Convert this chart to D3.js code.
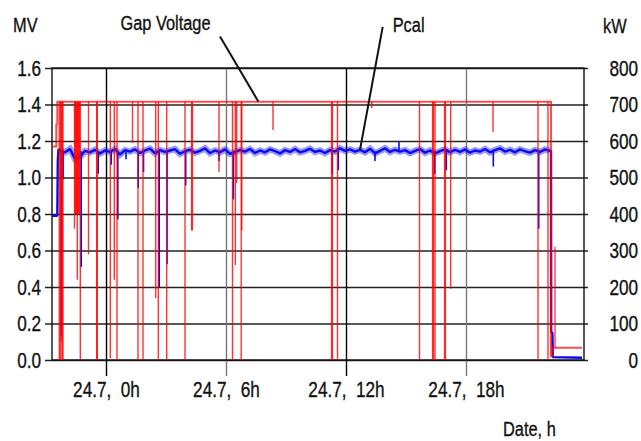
<!DOCTYPE html>
<html><head><meta charset="utf-8">
<script src="https://cdn.jsdelivr.net/npm/d3@7"></script>
<style>
html,body{margin:0;padding:0;background:#fff;}
svg{display:block;}
text{font-family:"Liberation Sans",Arial,sans-serif;fill:#111;stroke:#111;stroke-width:0.35px;}
</style></head><body>
<svg id="chart" width="641" height="441"></svg>
<script>
// ---------- DATA ----------
const xTickHours = [0, 6, 12, 18];
const xTickLabels = ["24.7,  0h", "24.7,  6h", "24.7,  12h", "24.7,  18h"];
const mvTicks = [0, 0.2, 0.4, 0.6, 0.8, 1.0, 1.2, 1.4, 1.6];
const kwTicks = [0, 100, 200, 300, 400, 500, 600, 700, 800];

// Gap voltage (MV): step levels
const gvStepHours  = [-2.7, -2.485, -2.435, 22.25, 22.33];
const gvStepValues = [1.17, 1.29, 1.415, 0.02, 0.067];
const gvEndHour = 23.8;
const gvLevel = 1.415;
// Gap voltage trips (hour, minimum MV reached)
const gvTripHours = [-2.335, -2.265, -2.23, -2.19, -2.15, -1.575, -1.54, -1.505, -1.47, -1.435, -1.40, -1.365, -1.33, -1.285,
  -0.875, -0.465, -0.435, 0.215, 0.415, 0.55, 1.325, 1.6, 1.85, 2.485, 2.615, 3.035, 3.95, 4.28, 4.32, 5.65,
  6.325, 6.465, 6.535, 6.76, 6.79, 8.35, 11.28, 11.32, 11.575, 13.285, 15.675, 16.33, 16.37, 16.45, 16.93, 16.97,
  17.235, 19.35, 21.6, 22.1];
const gvTripMin = [0, 0, 0.1, 0, 0, 0.72, 0.8, 0.8, 0.8, 0.44, 0.8, 0.8, 0.8, 0,
  0.58, 0, 0, 0.01, 0.44, 0, 1.19, 0, 0, 0.34, 0, 0, 0, 0.71, 0.71, 1.03,
  0, 0.52, 0.97, 0, 0.71, 1.26, 0, 0, 0, 1.38, 0, 0, 0, 0, 0, 0,
  0.39, 1.25, 0, 0];
// short pulse after shutdown
const gvPulseHours = [22.45];
const gvPulseMax = [0.62];

// Pcal (kW)
const pcalStartHours = [-2.7, -2.435, -2.41, -2.375];
const pcalStartKW = [395, 395, 545, 578];
const pcalSampleStart = -2.3, pcalSampleStep = 0.25;
const pcalKW = [575,569,578,551,556,573,569,576,566,574,570,578,563,575,571,577,567,574,579,566,
  575,570,574,578,565,572,576,568,573,580,567,574,569,577,565,570,575,571,578,567,
  574,569,577,572,566,575,570,578,569,573,579,570,574,567,575,571,580,573,577,571,
  576,569,579,566,573,580,570,576,571,575,567,573,578,568,574,566,572,577,569,576,
  570,577,568,574,571,578,569,575,580,571,576,569,577,572,568,575,570,577,573];
const pcalEndHours = [22.25, 22.26, 22.32, 22.34, 23.8];
const pcalEndKW = [573, 75, 75, 8, 6];
const pcalLevel = 572;
const pcalDipHours = [-2.235, -2.14, -1.24, -0.39, 0.26, 0.59, 1.0, 1.61, 1.875, 2.66, 3.05, 3.985, 5.65, 6.365,
  11.315, 11.615, 13.45, 14.65, 16.435, 17.015, 19.365, 21.635];
const pcalDipKW = [65, 495, 255, 510, 535, 385, 550, 472, 515, 200, 262, 478, 545, 440,
  510, 520, 545, 600, 510, 520, 530, 360];

// ---------- CHART ----------
const svg = d3.select("#chart");
const x = d3.scaleLinear().domain([-2.7, 23.9]).range([52, 584]);
const yL = d3.scaleLinear().domain([0, 1.6]).range([360, 68]);
const yR = d3.scaleLinear().domain([0, 800]).range([360, 68]);
const FS = 22;

// horizontal grid + left labels
const gL = svg.append("g").attr("transform", "translate(588,0)")
  .call(d3.axisLeft(yL).tickValues(mvTicks).tickSize(543).tickPadding(4).tickFormat(d3.format(".1f")));
gL.select(".domain").remove();
gL.selectAll(".tick line").attr("stroke", "#222").attr("stroke-width", 1.6);
gL.selectAll(".tick text").attr("font-size", FS).attr("fill", "#111");

// right labels
const gR = svg.append("g").attr("transform", "translate(584,0)")
  .call(d3.axisRight(yR).tickValues(kwTicks).tickSize(0).tickPadding(54));
gR.select(".domain").remove();
gR.selectAll(".tick text").attr("text-anchor", "end").attr("font-size", FS).attr("fill", "#111");

// vertical grid + x labels
const gX = svg.append("g").attr("transform", "translate(0,376)")
  .call(d3.axisBottom(x).tickValues(xTickHours).tickSize(-308).tickPadding(5)
    .tickFormat((d, i) => xTickLabels[i]));
gX.select(".domain").remove();
gX.selectAll(".tick line").attr("stroke", (d, i) => i % 2 ? "#777" : "#000").attr("stroke-width", 1.4);
gX.selectAll(".tick text").attr("font-size", FS).attr("fill", "#111").style("white-space", "pre");

// frame
svg.append("rect").attr("x", x(-2.7)).attr("y", yL(1.6))
  .attr("width", x(23.9) - x(-2.7)).attr("height", yL(0) - yL(1.6))
  .attr("fill", "none").attr("stroke", "#111").attr("stroke-width", 1.4);

// Pcal series
const pcalMid = pcalKW.map((v, i) => [pcalSampleStart + i * pcalSampleStep, v]);
const pcalPts = pcalStartHours.map((h, i) => [h, pcalStartKW[i]])
  .concat(pcalMid)
  .concat(pcalEndHours.map((h, i) => [h, pcalEndKW[i]]));
const blue = "#0a0af0";
const pcalLine = d3.line().x(d => x(d[0])).y(d => yR(d[1]));
svg.append("path").datum(pcalMid).attr("d", pcalLine)
  .attr("fill", "none").attr("stroke", blue).attr("stroke-opacity", 0.4).attr("stroke-width", 6.5);
svg.append("path").datum(pcalPts).attr("d", pcalLine)
  .attr("fill", "none").attr("stroke", blue).attr("stroke-width", 2.4).attr("stroke-linejoin", "bevel");
svg.append("g").selectAll("line").data(pcalDipHours).join("line")
  .attr("x1", d => x(d)).attr("x2", d => x(d))
  .attr("y1", yR(pcalLevel)).attr("y2", (d, i) => yR(pcalDipKW[i]))
  .attr("stroke", blue).attr("stroke-width", 1.6);

// Gap voltage series
const red = "#ff0000";
const gvPts = gvStepHours.map((h, i) => [h, gvStepValues[i]]).concat([[gvEndHour, gvStepValues[gvStepValues.length - 1]]]);
svg.append("path").datum(gvPts)
  .attr("d", d3.line().curve(d3.curveStepAfter).x(d => x(d[0])).y(d => yL(d[1])))
  .attr("fill", "none").attr("stroke", red).attr("stroke-opacity", 0.7).attr("stroke-width", 2);
svg.append("g").selectAll("line").data(gvTripHours).join("line")
  .attr("x1", d => x(d)).attr("x2", d => x(d))
  .attr("y1", yL(gvLevel)).attr("y2", (d, i) => yL(gvTripMin[i]))
  .attr("stroke", red).attr("stroke-opacity", 0.8).attr("stroke-width", 1.4);
svg.append("g").selectAll("line").data(gvPulseHours).join("line")
  .attr("x1", d => x(d)).attr("x2", d => x(d))
  .attr("y1", yL(gvStepValues[gvStepValues.length - 1])).attr("y2", (d, i) => yL(gvPulseMax[i]))
  .attr("stroke", red).attr("stroke-opacity", 0.8).attr("stroke-width", 1.3);

// annotations
svg.append("line").attr("x1", x(5.7)).attr("y1", yL(1.772)).attr("x2", x(7.615)).attr("y2", yL(1.417))
  .attr("stroke", "#111").attr("stroke-width", 2);
svg.append("line").attr("x1", x(13.835)).attr("y1", yL(1.825)).attr("x2", x(12.7)).attr("y2", yL(1.151))
  .attr("stroke", "#111").attr("stroke-width", 2);
svg.append("text").attr("x", x(2.975)).attr("y", yL(1.81)).attr("text-anchor", "middle")
  .attr("font-size", FS - 1).text("Gap Voltage");
svg.append("text").attr("x", x(14.335)).attr("y", yL(1.797))
  .attr("font-size", FS - 1).text("Pcal");

// axis titles
svg.append("text").attr("x", 13).attr("y", 32).attr("font-size", FS - 1).text("MV");
svg.append("text").attr("x", 603).attr("y", 33).attr("font-size", FS - 1).text("kW");
svg.append("text").attr("x", 503).attr("y", 436).attr("font-size", FS - 1).text("Date, h");

// condense all text horizontally around its anchor (reference font is narrow)
const SX = 0.78;
svg.selectAll("text").each(function () {
  const b = this.getBBox();
  const a = this.getAttribute("text-anchor") || getComputedStyle(this).textAnchor || "start";
  const ox = a === "end" ? b.x + b.width : a === "middle" ? b.x + b.width / 2 : b.x;
  this.setAttribute("transform", `translate(${ox},0) scale(${SX},1) translate(${-ox},0)`);
});
</script>
</body></html>
